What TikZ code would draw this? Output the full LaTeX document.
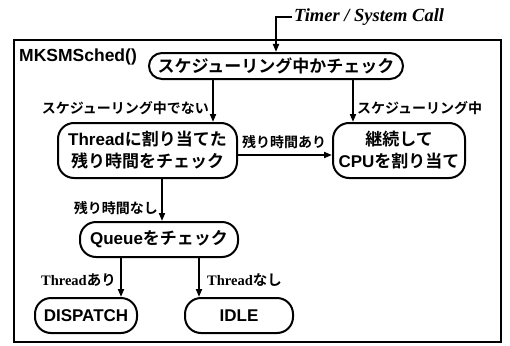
\documentclass[tikz,border=0pt]{standalone}
\usepackage{fontspec}
\usetikzlibrary{arrows.meta}
\newfontfamily\jpb{Noto Sans CJK JP Bold}
\newfontfamily\lsans{Liberation Sans}
\newfontfamily\lserif{Liberation Serif}
\newcommand\lat[1]{{\lsans\bfseries #1}}
\newcommand\jt[1]{{\jpb #1}}
\begin{document}
\begin{tikzpicture}[x=1pt,y=-1pt,
  box/.style={draw, line width=2pt, rounded corners=16pt, inner sep=0pt, align=center,
    font=\fontsize{17}{22}\selectfont},
  arr/.style={line width=1.8pt, -{Triangle[length=8pt,width=6pt]}},
  lab/.style={inner sep=0pt, font=\fontsize{14}{16}\selectfont\jpb},
  slab/.style={inner sep=0pt, font=\fontsize{14.5}{16}\selectfont}]
\useasboundingbox (0,0) rectangle (510,345);
\draw[line width=2.2pt] (14,40) rectangle (501,342);
\node[anchor=north west, inner sep=0pt, font=\lsans\bfseries\fontsize{17.5}{18}\selectfont] (title) at (19,49) {MKSMSched()};
\node[anchor=west, inner sep=2pt, font=\lserif\bfseries\itshape\fontsize{18.5}{20}\selectfont] (tm) at (292,17) {Timer / System Call};

\node[box, rounded corners=13pt, minimum width=254pt, minimum height=26pt] (n1) at (276,66) {\jt{スケジューリング中かチェック}};
\node[box, minimum width=179pt, minimum height=55pt] (n2) at (147.5,150.5) {\lat{Thread}\jt{に割り当てた}\\\jt{残り時間をチェック}};
\node[box, minimum width=132pt, minimum height=55pt] (n3) at (399,150.5) {\jt{継続して}\\\lat{CPU}\jt{を割り当て}};
\node[box, minimum width=158pt, minimum height=35pt] (n4) at (159,239.5) {\lat{Queue}\jt{をチェック}};
\node[box, minimum width=102pt, minimum height=35pt] (dp) at (86,315.5) {\lat{DISPATCH}};
\node[box, minimum width=108pt, minimum height=35pt] (idle) at (239,315.5) {\lat{IDLE}};

\coordinate (xa) at (213,0);
\coordinate (xb) at (353,0);
\coordinate (yc) at (0,155);
\coordinate (xc) at (162,0);
\coordinate (xd) at (121,0);
\coordinate (xe) at (199,0);

\draw[arr] (tm.west) -| (n1.north);
\draw[arr] (n1.south -| xa) -- (n2.north -| xa);
\draw[arr] (n1.south -| xb) -- (n3.north -| xb);
\draw[arr] (n2.east |- yc) -- (n3.west |- yc);
\draw[arr] (n2.south -| xc) -- (n4.north -| xc);
\draw[arr] (n4.south -| xd) -- (dp.north -| xd);
\draw[arr] (n4.south -| xe) -- (idle.north -| xe);

\node[lab, anchor=east] (l1) at (209,108) {スケジューリング中でない};
\node[lab, anchor=west] (l2) at (357,108) {スケジューリング中};
\node[lab] (l3) at (284,142) {残り時間あり};
\node[lab, anchor=east] (l4) at (158,208) {残り時間なし};
\node[slab, anchor=east] (l5) at (116,280) {{\lserif\bfseries Thread}\jt{あり}};
\node[slab, anchor=west] (l6) at (207,280) {{\lserif\bfseries Thread}\jt{なし}};
\end{tikzpicture}
\end{document}
